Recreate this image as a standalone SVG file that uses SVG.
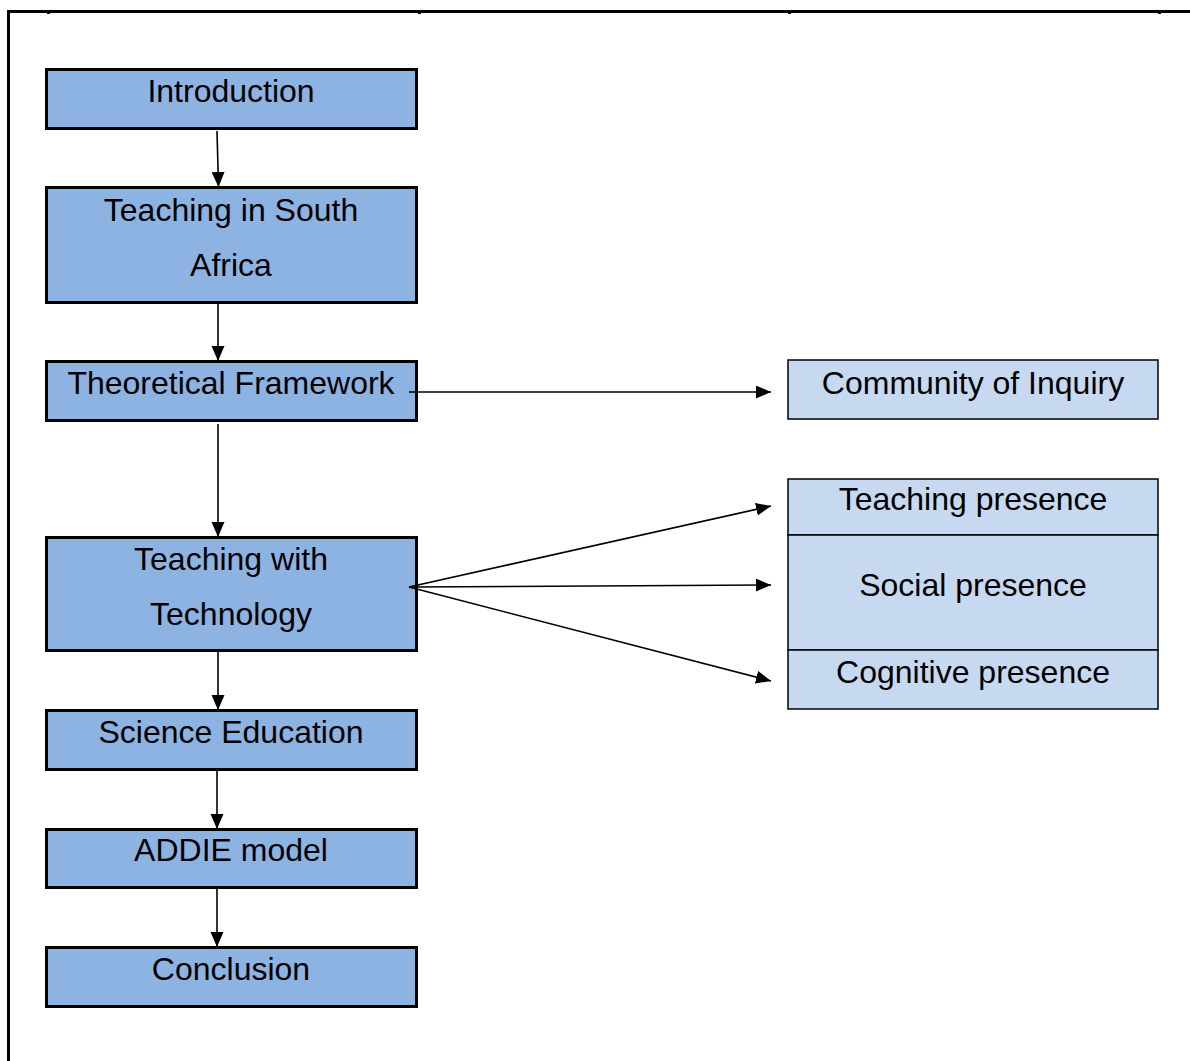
<svg xmlns="http://www.w3.org/2000/svg" width="1190" height="1061" viewBox="0 0 1190 1061">
  <style>
    .main rect { fill: #8db3e2; stroke: #000; stroke-width: 3; }
    .sub rect { fill: #c6d9f1; stroke: #000; stroke-width: 1.5; }
    text { font-family: "Liberation Sans", Arial, sans-serif; font-size: 32px; fill: #000; text-anchor: middle; }
    .edges line { stroke: #000; stroke-width: 1.6; fill: none; }
    .frame { stroke: #000; fill: none; }
  </style>
  <defs>
    <marker id="arrow" markerUnits="userSpaceOnUse" markerWidth="16" markerHeight="14" refX="15" refY="6.5" orient="auto">
      <path d="M0,0 L15,6.5 L0,13 z" fill="#000"/>
    </marker>
  </defs>
  <rect width="1190" height="1061" fill="#fff"/>

  <!-- page frame -->
  <g id="frame">
    <line class="frame" x1="7" y1="11.5" x2="1190" y2="11.5" stroke-width="3"/>
    <line class="frame" x1="8.5" y1="10" x2="8.5" y2="1061" stroke-width="3"/>
    <rect x="47" y="12" width="3" height="2" fill="#000"/>
    <rect x="418" y="12" width="3" height="2" fill="#000"/>
    <rect x="788" y="12" width="3" height="2" fill="#000"/>
    <rect x="1158" y="12" width="3" height="2" fill="#000"/>
  </g>

  <!-- main chapter sequence -->
  <g id="introduction" class="main">
    <rect x="46.5" y="69.5" width="370" height="59"/>
    <text x="231" y="102">Introduction</text>
  </g>
  <g id="teaching-sa" class="main">
    <rect x="46.5" y="187.5" width="370" height="115"/>
    <text x="231" y="221">Teaching in South</text>
    <text x="231" y="276">Africa</text>
  </g>
  <g id="theoretical-framework" class="main">
    <rect x="46.5" y="361.5" width="370" height="59"/>
    <text x="231" y="394">Theoretical Framework</text>
  </g>
  <g id="teaching-technology" class="main">
    <rect x="46.5" y="537.5" width="370" height="113"/>
    <text x="231" y="570">Teaching with</text>
    <text x="231" y="625">Technology</text>
  </g>
  <g id="science-education" class="main">
    <rect x="46.5" y="710.5" width="370" height="59"/>
    <text x="231" y="743">Science Education</text>
  </g>
  <g id="addie" class="main">
    <rect x="46.5" y="829.5" width="370" height="58"/>
    <text x="231" y="861">ADDIE model</text>
  </g>
  <g id="conclusion" class="main">
    <rect x="46.5" y="947.5" width="370" height="59"/>
    <text x="231" y="980">Conclusion</text>
  </g>

  <!-- framework components -->
  <g id="community-of-inquiry" class="sub">
    <rect x="788" y="360" width="370" height="59"/>
    <text x="973" y="394">Community of Inquiry</text>
  </g>
  <g id="teaching-presence" class="sub">
    <rect x="788" y="479" width="370" height="56"/>
    <text x="973" y="510">Teaching presence</text>
  </g>
  <g id="social-presence" class="sub">
    <rect x="788" y="535" width="370" height="115"/>
    <text x="973" y="596">Social presence</text>
  </g>
  <g id="cognitive-presence" class="sub">
    <rect x="788" y="650" width="370" height="59"/>
    <text x="973" y="683">Cognitive presence</text>
  </g>

  <!-- connectors -->
  <g id="connectors" class="edges">
    <line x1="217" y1="131" x2="218.5" y2="187" marker-end="url(#arrow)"/>
    <line x1="218" y1="304" x2="218" y2="361" marker-end="url(#arrow)"/>
    <line x1="218" y1="424" x2="218" y2="537" marker-end="url(#arrow)"/>
    <line x1="218" y1="652" x2="218" y2="710" marker-end="url(#arrow)"/>
    <line x1="217" y1="770" x2="217" y2="829" marker-end="url(#arrow)"/>
    <line x1="217" y1="889" x2="217" y2="947" marker-end="url(#arrow)"/>
    <line x1="409" y1="392" x2="771" y2="392" marker-end="url(#arrow)"/>
    <line x1="409" y1="587" x2="771" y2="506" marker-end="url(#arrow)"/>
    <line x1="409" y1="587" x2="771" y2="585" marker-end="url(#arrow)"/>
    <line x1="409" y1="587" x2="771" y2="681" marker-end="url(#arrow)"/>
  </g>
</svg>
